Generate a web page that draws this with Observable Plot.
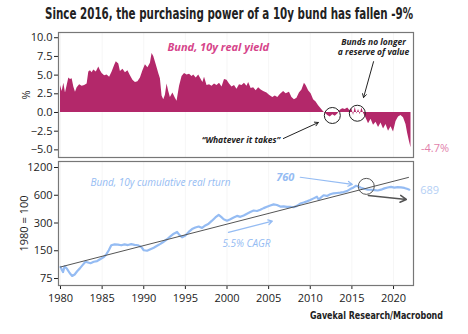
<!DOCTYPE html>
<html><head><meta charset="utf-8">
<script src="https://cdn.jsdelivr.net/npm/d3@7"></script>
<script src="https://cdn.jsdelivr.net/npm/@observablehq/plot@0.6"></script>
<style>
body{margin:0;background:#fff;}
#wrap{position:relative;width:468px;height:334px;overflow:hidden;font-family:"Open Sans","DejaVu Sans",sans-serif;}
#title{position:absolute;left:0;top:5px;white-space:nowrap;font-weight:bold;font-size:15px;color:#222;transform-origin:0 0;font-family:"DejaVu Sans Condensed","DejaVu Sans",sans-serif;}
#caption{position:absolute;top:309px;white-space:nowrap;font-weight:bold;font-size:11px;color:#222;transform-origin:0 0;font-family:"DejaVu Sans Condensed","DejaVu Sans",sans-serif;}
#top{position:absolute;left:0;top:28px;}
#bot{position:absolute;left:0;top:157px;}
</style></head>
<body><div id="wrap">
<div id="title">Since 2016, the purchasing power of a 10y bund has fallen -9%</div>
<div id="top"></div>
<div id="bot"></div>
<div id="caption">Gavekal Research/Macrobond</div>
</div>
<script>
const realYears = [1980.0,1980.2,1980.4,1980.6,1980.8,1981.0,1981.2,1981.4,1981.6,1981.8,1982.0,1982.3,1982.6,1982.9,1983.2,1983.4,1983.6,1983.8,1984.0,1984.3,1984.6,1984.8,1985.0,1985.3,1985.6,1985.9,1986.2,1986.5,1986.7,1987.0,1987.2,1987.5,1987.8,1988.1,1988.4,1988.7,1989.0,1989.3,1989.6,1989.9,1990.2,1990.5,1990.8,1991.0,1991.2,1991.5,1991.8,1992.0,1992.2,1992.4,1992.6,1992.8,1993.0,1993.2,1993.5,1993.8,1994.0,1994.3,1994.6,1994.9,1995.2,1995.5,1995.8,1996.0,1996.3,1996.6,1996.8,1997.1,1997.3,1997.6,1997.9,1998.2,1998.5,1998.8,1999.1,1999.4,1999.7,2000.0,2000.3,2000.6,2000.9,2001.2,2001.5,2001.8,2002.1,2002.4,2002.6,2002.9,2003.2,2003.5,2003.8,2004.1,2004.4,2004.8,2005.1,2005.5,2005.8,2006.1,2006.4,2006.8,2007.1,2007.5,2007.8,2008.1,2008.4,2008.7,2009.0,2009.3,2009.5,2009.8,2010.1,2010.4,2010.7,2011.0,2011.3,2011.6,2011.8,2012.1,2012.4,2012.7,2013.0,2013.3,2013.6,2013.9,2014.2,2014.5,2014.8,2015.0,2015.2,2015.4,2015.6,2015.8,2016.0,2016.2,2016.4,2016.6,2016.8,2017.0,2017.3,2017.6,2017.9,2018.2,2018.5,2018.8,2019.1,2019.4,2019.7,2020.0,2020.3,2020.6,2020.9,2021.2,2021.5,2021.7,2021.9,2022.1];
const realYield = [3.6,2.8,3.9,2.6,3.6,4.6,4.4,4.5,3.4,2.7,3.3,3.7,3.5,3.6,3.8,5.4,5.6,5.3,5.7,5.4,6.1,5.6,5.2,4.9,5.0,4.7,5.4,6.3,6.8,6.5,5.5,5.8,5.3,5.6,4.9,4.3,4.0,4.1,4.6,5.6,6.4,6.0,6.6,7.9,7.5,6.4,5.2,4.5,2.2,1.7,2.3,3.8,2.8,2.0,2.6,1.9,1.5,3.5,4.8,5.2,5.0,5.1,4.8,5.0,4.6,5.0,4.6,4.0,4.7,3.6,3.7,3.5,3.8,3.6,3.9,3.4,4.4,4.3,3.8,3.4,3.6,3.1,3.7,3.6,3.9,3.5,4.0,3.2,3.3,2.9,3.3,3.0,2.8,2.6,2.3,2.0,2.2,2.0,2.4,2.8,2.5,2.7,2.0,1.7,1.9,2.6,3.0,3.9,3.6,2.9,2.5,1.7,1.4,0.9,0.5,0.1,-0.1,-0.4,-0.6,-0.3,-0.5,-0.2,0.3,0.5,0.4,0.6,0.2,0.5,-0.4,0.7,-0.2,0.4,-0.3,0.6,-0.1,-0.5,-1.0,-1.5,-0.9,-1.7,-1.3,-2.0,-1.4,-2.2,-1.6,-2.5,-1.9,-2.6,-1.2,-0.6,-0.4,-0.7,-1.6,-2.8,-3.8,-4.7];

const retYears = [1980.0,1980.3,1980.5,1980.8,1981.1,1981.4,1981.7,1982.0,1982.3,1982.7,1983.0,1983.3,1983.6,1984.0,1984.4,1984.8,1985.2,1985.5,1985.8,1986.1,1986.5,1986.9,1987.3,1987.7,1988.1,1988.5,1988.9,1989.3,1989.7,1990.0,1990.4,1990.8,1991.2,1991.6,1992.0,1992.4,1992.8,1993.2,1993.6,1994.0,1994.3,1994.6,1995.0,1995.4,1995.8,1996.2,1996.6,1997.0,1997.4,1997.8,1998.2,1998.6,1999.0,1999.3,1999.6,2000.0,2000.4,2000.8,2001.2,2001.6,2002.0,2002.4,2002.8,2003.2,2003.6,2004.0,2004.4,2004.8,2005.2,2005.6,2006.0,2006.4,2006.8,2007.2,2007.6,2008.0,2008.4,2008.8,2009.2,2009.6,2010.0,2010.4,2010.8,2011.0,2011.3,2011.6,2012.0,2012.4,2012.8,2013.2,2013.6,2014.0,2014.4,2014.8,2015.2,2015.5,2015.8,2016.1,2016.5,2016.9,2017.3,2017.7,2018.1,2018.5,2018.9,2019.3,2019.7,2020.1,2020.5,2020.9,2021.3,2021.7,2021.9];
const retValues = [100,88,102,95,86,80,83,90,96,106,114,112,110,114,116,122,128,137,152,172,176,175,172,176,173,177,174,172,165,152,150,156,162,170,178,188,200,215,230,240,222,210,220,240,258,268,275,265,282,295,318,345,368,350,330,318,330,345,358,350,362,378,395,410,405,418,435,450,465,478,470,452,455,448,450,445,460,488,500,515,532,555,578,540,570,600,590,615,630,635,640,650,665,700,730,760,745,725,705,690,688,682,676,690,712,728,740,725,735,730,720,700,689];

const trendYears = [1980, 2021.8];
const trendValues = [100, 937];

const xTicks = [1980,1985,1990,1995,2000,2005,2010,2015,2020];
const yTicksTop = [10,7.5,5,2.5,0,-2.5,-5];
const yTicksBottom = [75,150,300,600,1200];

const realData = realYears.map((y,i)=>({year:y, value:realYield[i]}));
const retData = retYears.map((y,i)=>({year:y, value:retValues[i]}));
const trendData = trendYears.map((y,i)=>({year:y, value:trendValues[i]}));

const FONT = '"Open Sans","DejaVu Sans Condensed",sans-serif';
const XDOM = [1979.76, 2022.4];
const MAG = "#b3286a";
const PINK = "#d6448a";
const BLUE = "#95bcf3";
const GRAY = "#555";

const topPlot = Plot.plot({
  width: 468, height: 135,
  marginLeft: 58, marginRight: 55, marginTop: 4, marginBottom: 6,
  style: {fontFamily: FONT, fontSize: "11px", color: "#222", background: "transparent"},
  x: {domain: XDOM, axis: null},
  y: {domain: [-6.02, 10.7], ticks: yTicksTop, tickFormat: d3.format(".1f"), tickSize: 4, tickPadding: 2,
      label: "%", labelAnchor: "center", labelOffset: 36, labelArrow: "none"},
  marks: [
    Plot.gridX(xTicks, {stroke: "#000", strokeOpacity: 0.04}),
    Plot.areaY(realData, {x: "year", y1: 0, y2: "value", fill: MAG}),
    Plot.frame({stroke: "#777", strokeWidth: 1.2}),
    Plot.text(["Bund, 10y real yield"], {x: 1992.85, y: 8.7, text: d=>d, textAnchor: "start", fill: PINK, fontStyle: "italic", fontWeight: "bold", fontSize: 11}),
    Plot.text(["Bunds no longer", "a reserve of value"], {x: 2017.6, y: (d,i)=> i===0 ? 9.4 : 8.05, text: d=>d, fill: "#222", fontStyle: "italic", fontWeight: "bold", fontSize: 8.5}),
    Plot.text(["\u201CWhatever it takes\u201D"], {x: 2006.4, y: -3.75, text: d=>d, textAnchor: "end", fill: "#222", fontStyle: "italic", fontWeight: "bold", fontSize: 8.5}),
    Plot.arrow([{a:2017.6,b:6.8,c:2016.4,d:2.0},{a:2006.77,b:-3.48,c:2010.97,d:-1.34}], {x1:"a", y1:"b", x2:"c", y2:"d", stroke: "#222", strokeWidth: 1, headLength: 6}),
    Plot.dot([{x:2012.65,y:-0.4},{x:2015.65,y:-0.1}], {x:"x", y:"y", r: 8, stroke: "#222", strokeWidth: 1, fill: "none"}),
    Plot.text(["-4.7%"], {x: 2023.3, y: -4.8, text: d=>d, textAnchor: "start", fill: "#e27fab", fontSize: 11})
  ]
});
document.getElementById("top").appendChild(topPlot);

const botPlot = Plot.plot({
  width: 468, height: 160,
  marginLeft: 58, marginRight: 55, marginTop: 4, marginBottom: 32,
  style: {fontFamily: FONT, fontSize: "11px", color: "#222", background: "transparent"},
  x: {domain: XDOM, ticks: xTicks, tickFormat: "d", tickSize: 4, label: null},
  y: {type: "log", domain: [63, 1394], ticks: yTicksBottom, tickFormat: "d", tickSize: 4, tickPadding: 2,
      label: "1980 = 100", labelAnchor: "center", labelOffset: 38, labelArrow: "none"},
  marks: [
    Plot.gridX(xTicks, {stroke: "#000", strokeOpacity: 0.04}),
    Plot.line(retData, {x: "year", y: "value", stroke: BLUE, strokeWidth: 2.2}),
    Plot.line(trendData, {x: "year", y: "value", stroke: GRAY, strokeWidth: 1}),
    Plot.frame({stroke: "#777", strokeWidth: 1.2}),
    Plot.text(["Bund, 10y cumulative real rturn"], {x: 1983.6, y: 829, text: d=>d, textAnchor: "start", fill: BLUE, fontStyle: "italic", fontSize: 10}),
    Plot.text(["760"], {x: 2007.0, y: 940, text: d=>d, fill: BLUE, fontStyle: "italic", fontWeight: "bold", fontSize: 11}),
    Plot.text(["5.5% CAGR"], {x: 1999.45, y: 180, text: d=>d, textAnchor: "start", fill: BLUE, fontStyle: "italic", fontSize: 10}),
    Plot.text(["689"], {x: 2023.2, y: 680, text: d=>d, textAnchor: "start", fill: "#b5d0f5", fontSize: 11}),
    Plot.arrow([{a:2008.8,b:940,c:2015.05,d:787},{a:2000.17,b:237,c:2005.45,d:314}], {x1:"a", y1:"b", x2:"c", y2:"d", stroke: BLUE, strokeWidth: 1.2, headLength: 6}),
    Plot.arrow([{a:2016.97,b:598,c:2021.54,d:540}], {x1:"a", y1:"b", x2:"c", y2:"d", stroke: GRAY, strokeWidth: 1.5, headLength: 7}),
    Plot.dot([{x:2016.73,y:749}], {x:"x", y:"y", r: 8, stroke: GRAY, strokeWidth: 1, fill: "none"})
  ]
});
document.getElementById("bot").appendChild(botPlot);

// fit title and caption widths
function fit(el, left, right) {
  const w = el.getBoundingClientRect().width;
  const s = (right - left) / w;
  el.style.left = left + "px";
  el.style.transform = "scaleX(" + s + ")";
}
fit(document.getElementById("title"), 45, 413);
fit(document.getElementById("caption"), 310, 443);
</script>
</body></html>
